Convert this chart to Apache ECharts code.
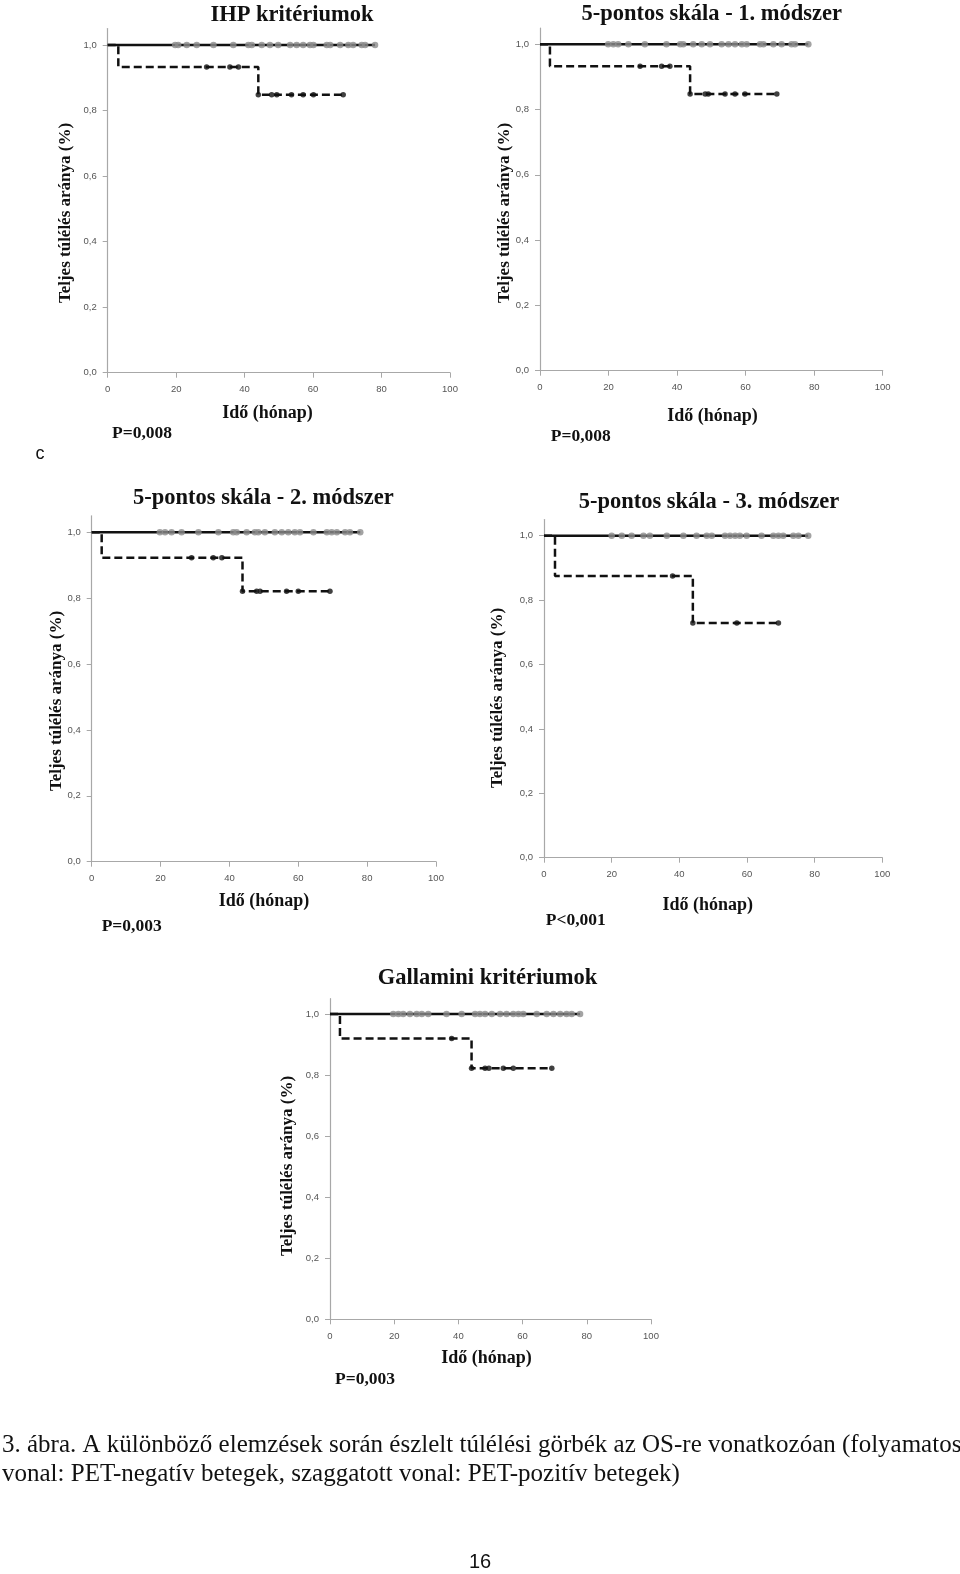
<!DOCTYPE html>
<html>
<head>
<meta charset="utf-8">
<script src="https://cdn.jsdelivr.net/npm/echarts@6/dist/echarts.min.js"></script>
<style>
html,body{margin:0;padding:0;background:#fff;}
#chart{width:960px;height:1574px;}
</style>
</head>
<body>
<div id="chart"></div>
<script>
// ---------- DATA ----------
const xTicks = [0, 20, 40, 60, 80, 100];
const yTicks = [0, 0.2, 0.4, 0.6, 0.8, 1.0];

const panelTitles = ['IHP kritériumok', '5-pontos skála - 1. módszer', '5-pontos skála - 2. módszer', '5-pontos skála - 3. módszer', 'Gallamini kritériumok'];
const pValues = ['P=0,008', 'P=0,008', 'P=0,003', 'P<0,001', 'P=0,003'];
const xAxisTitle = 'Idő (hónap)';
const yAxisTitle = 'Teljes túlélés aránya (%)';

// PET-positive (dashed) step curves: event times and survival values
const ihpPosTimes = [0, 3.1, 44.0, 68.8];
const ihpPosSurv  = [1, 0.933, 0.848, 0.848];
const ihpPosCensor = [28.9, 35.7, 38.2, 44.0, 47.9, 49.4, 53.7, 57.1, 60.1, 68.8];
const ihpNegCensor = [19.7, 20.6, 23.1, 26.0, 30.9, 36.7, 41.1, 42.1, 45.0, 47.4, 49.8, 53.3, 55.2, 57.1, 59.1, 60.1, 64.0, 65.0, 67.9, 70.3, 71.7, 74.2, 75.2, 78.1];

const m1PosTimes = [0, 2.9, 43.8, 69.1];
const m1PosSurv  = [1, 0.933, 0.848, 0.848];
const m1PosCensor = [29.2, 35.5, 37.9, 43.8, 48.2, 49.1, 54.0, 56.9, 59.8, 69.1];
const m1NegCensor = [19.9, 21.4, 22.8, 25.8, 30.6, 36.9, 40.9, 41.8, 44.7, 47.2, 49.6, 53.0, 55.0, 56.9, 58.9, 60.3, 64.2, 65.2, 68.1, 70.5, 73.4, 74.4, 78.3];

const m2PosTimes = [0, 2.9, 43.8, 69.2];
const m2PosSurv  = [1, 0.923, 0.821, 0.821];
const m2PosCensor = [29.0, 35.3, 37.8, 43.8, 47.9, 48.9, 56.6, 60.0, 69.2];
const m2NegCensor = [19.8, 21.3, 23.2, 26.1, 31.0, 36.8, 41.1, 42.1, 45.0, 47.4, 48.4, 50.3, 53.2, 55.2, 57.1, 59.0, 60.5, 64.4, 68.3, 69.7, 71.2, 73.6, 75.0, 78.0];

const m3PosTimes = [0, 3.25, 44.0, 69.3];
const m3PosSurv  = [1, 0.875, 0.729, 0.729];
const m3PosCensor = [38.0, 44.0, 57.0, 69.3];
const m3NegCensor = [20.0, 23.0, 25.9, 29.4, 31.3, 36.3, 41.2, 45.1, 48.1, 49.6, 53.5, 55.0, 56.5, 57.9, 59.9, 64.3, 67.8, 69.3, 70.7, 73.7, 75.2, 78.1];

const galPosTimes = [0, 3.1, 44.1, 69.1];
const galPosSurv  = [1, 0.92, 0.822, 0.822];
const galPosCensor = [37.9, 44.1, 48.3, 49.5, 54.0, 57.1, 69.1];
const galNegCensor = [19.7, 21.3, 22.8, 24.9, 27.0, 28.6, 30.6, 36.3, 41.0, 45.2, 46.7, 48.3, 50.4, 53.0, 55.0, 57.1, 58.7, 60.2, 64.4, 67.5, 69.6, 71.7, 73.7, 75.3, 77.9];

const captionLine1 = '3. ábra. A különböző elemzések során észlelt túlélési görbék az OS-re vonatkozóan (folyamatos';
const captionLine2 = 'vonal: PET-negatív betegek, szaggatott vonal: PET-pozitív betegek)';
const pageNumber = '16';
const panelLetter = 'c';

// ---------- LAYOUT ----------
const panelData = [
  [ihpPosTimes, ihpPosSurv, ihpPosCensor, ihpNegCensor],
  [m1PosTimes, m1PosSurv, m1PosCensor, m1NegCensor],
  [m2PosTimes, m2PosSurv, m2PosCensor, m2NegCensor],
  [m3PosTimes, m3PosSurv, m3PosCensor, m3NegCensor],
  [galPosTimes, galPosSurv, galPosCensor, galNegCensor]
];
const grids = [
  {left: 107.7, top: 28.6, width: 342.3, height: 344.1},
  {left: 540, top: 28.0, width: 342.7, height: 342.7},
  {left: 91.7, top: 515.8, width: 344.3, height: 345.9},
  {left: 544, top: 519.6, width: 338.3, height: 338.1},
  {left: 330, top: 998.7, width: 321, height: 320.6}
];
const titlePos = [[292, 15], [711.7, 14], [263.3, 498.5], [709, 501.7], [487.5, 978.3]];
const xNamePos = [[267.4, 413], [712.5, 416.7], [264, 901.7], [707.8, 905], [486.5, 1358.3]];
const pPos = [[142, 433.3], [580.8, 436], [131.7, 926], [575.8, 920], [365, 1379.3]];
const yNamePos = [[65.3, 213], [505, 213], [56.2, 701], [498, 698], [288, 1166]];

function survAt(times, surv, t) {
  let v = surv[0];
  for (let i = 0; i < times.length; i++) { if (times[i] <= t) v = surv[i]; }
  return v;
}
function fmt(v) { return v.toFixed(1).replace('.', ','); }

const axisColor = '#a8a8a8';
const labelColor = '#555';
const option = {
  animation: false,
  backgroundColor: '#fff',
  grid: [], xAxis: [], yAxis: [], series: [], graphic: []
};

panelData.forEach((p, i) => {
  const [pt, ps, pc, nc] = p;
  option.grid.push(Object.assign({containLabel: false, outerBoundsMode: 'none'}, grids[i]));
  option.xAxis.push({
    type: 'value', gridIndex: i, min: 0, max: 100, interval: 20,
    axisLine: {show: true, onZero: false, lineStyle: {color: axisColor, width: 1.2}},
    axisTick: {show: true, length: 5, lineStyle: {color: axisColor}},
    axisLabel: {color: labelColor, fontSize: 9.5, fontFamily: 'Liberation Sans', margin: 12,
      customValues: xTicks, formatter: v => String(v)},
    splitLine: {show: false}
  });
  option.yAxis.push({
    type: 'value', gridIndex: i, min: 0, max: 1.05,
    axisLine: {show: true, onZero: false, lineStyle: {color: axisColor, width: 1.2}},
    axisTick: {show: true, length: 5, customValues: yTicks, lineStyle: {color: axisColor}},
    axisLabel: {color: labelColor, fontSize: 9.5, fontFamily: 'Liberation Sans', margin: 11,
      customValues: yTicks, formatter: v => fmt(v)},
    splitLine: {show: false}
  });
  const negEnd = Math.max.apply(null, nc);
  option.series.push({
    type: 'line', xAxisIndex: i, yAxisIndex: i, data: [[0, 1], [negEnd, 1]],
    symbol: 'none', lineStyle: {color: '#111', width: 2.5}, z: 2, silent: true
  });
  option.series.push({
    type: 'line', xAxisIndex: i, yAxisIndex: i, step: 'end',
    data: pt.map((t, k) => [t, ps[k]]),
    symbol: 'none', lineStyle: {color: '#111', width: 2.5, type: [8, 4]}, z: 2, silent: true
  });
  option.series.push({
    type: 'scatter', xAxisIndex: i, yAxisIndex: i,
    data: nc.map(t => [t, 1]), symbol: 'circle', symbolSize: 6.5,
    itemStyle: {color: '#8c8c8c'}, z: 3, silent: true
  });
  option.series.push({
    type: 'scatter', xAxisIndex: i, yAxisIndex: i,
    data: pc.map(t => [t, survAt(pt, ps, t)]), symbol: 'circle', symbolSize: 5.5,
    itemStyle: {color: '#111'}, z: 3, silent: true
  });

  option.graphic.push({type: 'text', x: titlePos[i][0], y: titlePos[i][1],
    style: {text: panelTitles[i], font: 'bold 22.5px "Liberation Serif"', fill: '#111', align: 'center', verticalAlign: 'middle'}});
  option.graphic.push({type: 'text', x: xNamePos[i][0], y: xNamePos[i][1],
    style: {text: xAxisTitle, font: 'bold 18px "Liberation Serif"', fill: '#111', align: 'center', verticalAlign: 'middle'}});
  option.graphic.push({type: 'text', x: pPos[i][0], y: pPos[i][1],
    style: {text: pValues[i], font: 'bold 17.5px "Liberation Serif"', fill: '#111', align: 'center', verticalAlign: 'middle'}});
  option.graphic.push({type: 'text', x: yNamePos[i][0], y: yNamePos[i][1], rotation: Math.PI / 2,
    style: {text: yAxisTitle, font: 'bold 17px "Liberation Serif"', fill: '#111', align: 'center', verticalAlign: 'middle'}});
});

option.graphic.push({type: 'text', x: 40, y: 454,
  style: {text: panelLetter, font: '18px "Liberation Sans"', fill: '#111', align: 'center', verticalAlign: 'middle'}});
option.graphic.push({type: 'text', x: 2, y: 1445,
  style: {text: captionLine1, font: '25px "Liberation Serif"', fill: '#111', align: 'left', verticalAlign: 'middle'}});
option.graphic.push({type: 'text', x: 2, y: 1474,
  style: {text: captionLine2, font: '25px "Liberation Serif"', fill: '#111', align: 'left', verticalAlign: 'middle'}});
option.graphic.push({type: 'text', x: 480, y: 1562,
  style: {text: pageNumber, font: '20px "Liberation Sans"', fill: '#111', align: 'center', verticalAlign: 'middle'}});

const chart = echarts.init(document.getElementById('chart'), null, {renderer: 'canvas'});
chart.setOption(option);
</script>
</body>
</html>
